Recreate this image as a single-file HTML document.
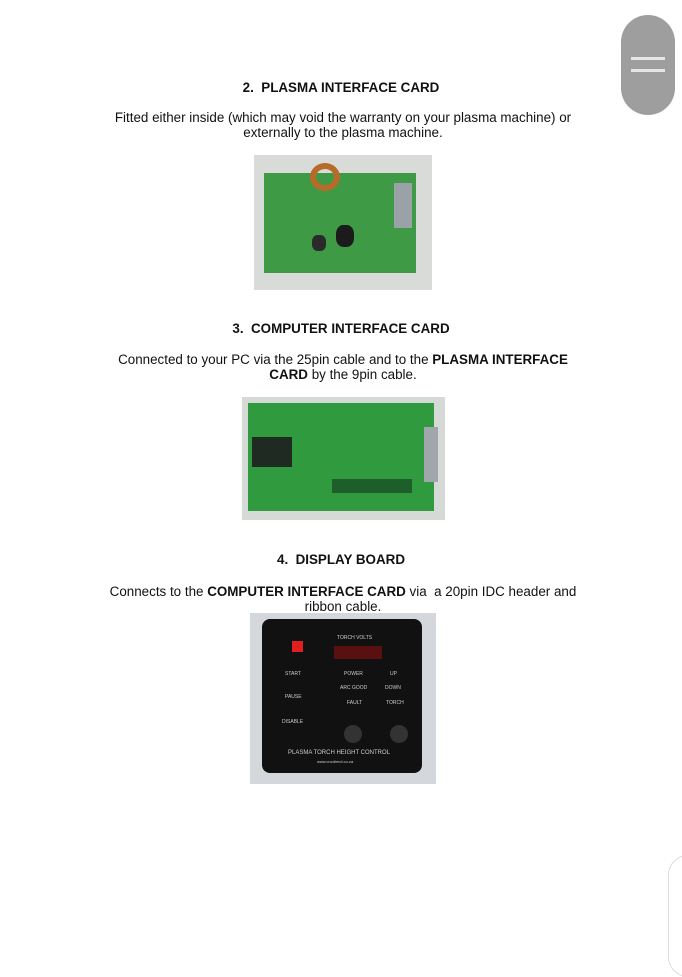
<!DOCTYPE html>
<html><head><style>
body{margin:0;width:682px;height:923px;background:#fff;position:relative;overflow:hidden;font-family:"Liberation Sans",sans-serif;color:#111}
.t{position:absolute;left:0;width:682px;text-align:center;font-size:13.4px;line-height:15px}
.h{font-weight:bold}
.a{position:absolute}
</style></head><body>
<div class="t h" style="top:80px">2.&nbsp; PLASMA INTERFACE CARD</div>
<div class="t" style="top:110px;left:2px">Fitted either inside (which may void the warranty on your plasma machine) or<br>externally to the plasma machine.</div>
<div class="a" style="left:254px;top:155px;width:178px;height:135px;background:#d9dbd8">
 <div class="a" style="left:10px;top:18px;width:152px;height:100px;background:#3f9a45"></div>
 <div class="a" style="left:56px;top:8px;width:30px;height:28px;border-radius:50%;border:6px solid #b86a2a;box-sizing:border-box"></div>
 <div class="a" style="left:140px;top:28px;width:18px;height:45px;background:#9aa2a8"></div>
 <div class="a" style="left:82px;top:70px;width:18px;height:22px;border-radius:40%;background:#1b1b1b"></div>
 <div class="a" style="left:58px;top:80px;width:14px;height:16px;border-radius:40%;background:#2a2a2a"></div>
</div>
<div class="t h" style="top:321px">3.&nbsp; COMPUTER INTERFACE CARD</div>
<div class="t" style="top:352px;left:2px">Connected to your PC via the 25pin cable and to the <b>PLASMA INTERFACE<br>CARD</b> by the 9pin cable.</div>
<div class="a" style="left:242px;top:397px;width:203px;height:123px;background:#d6dad6">
 <div class="a" style="left:6px;top:6px;width:186px;height:108px;background:#2f9a3e"></div>
 <div class="a" style="left:182px;top:30px;width:14px;height:55px;background:#a0a6aa"></div>
 <div class="a" style="left:10px;top:40px;width:40px;height:30px;background:#1f2a22"></div>
 <div class="a" style="left:90px;top:82px;width:80px;height:14px;background:#1d5e2b"></div>
</div>
<div class="t h" style="top:552px">4.&nbsp; DISPLAY BOARD</div>
<div class="t" style="top:584px;left:2px">Connects to the <b>COMPUTER INTERFACE CARD</b> via&nbsp; a 20pin IDC header and<br>ribbon cable.</div>
<div class="a" style="left:250px;top:613px;width:186px;height:171px;background:#d4d8dc">
 <div class="a" style="left:12px;top:6px;width:160px;height:154px;background:#111;border-radius:8px;color:#ccc;font-size:5px">
  <div class="a" style="left:30px;top:22px;width:11px;height:11px;background:#e02020"></div>
  <div class="a" style="left:72px;top:27px;width:48px;height:13px;background:#5a1010"></div>
  <div class="a" style="left:75px;top:16px">TORCH VOLTS</div>
  <div class="a" style="left:23px;top:52px">START</div>
  <div class="a" style="left:23px;top:75px">PAUSE</div>
  <div class="a" style="left:20px;top:100px">DISABLE</div>
  <div class="a" style="left:82px;top:52px">POWER</div>
  <div class="a" style="left:78px;top:66px">ARC GOOD</div>
  <div class="a" style="left:85px;top:81px">FAULT</div>
  <div class="a" style="left:128px;top:52px">UP</div>
  <div class="a" style="left:123px;top:66px">DOWN</div>
  <div class="a" style="left:124px;top:81px">TORCH</div>
  <div class="a" style="left:82px;top:106px;width:18px;height:18px;border-radius:50%;background:#333"></div>
  <div class="a" style="left:128px;top:106px;width:18px;height:18px;border-radius:50%;background:#333"></div>
  <div class="a" style="left:26px;top:131px;font-size:6px">PLASMA TORCH HEIGHT CONTROL</div>
  <div class="a" style="left:55px;top:140px;font-size:4px">www.cncdirect.co.za</div>
 </div>
</div>
<div class="a" style="left:621px;top:15px;width:54px;height:100px;border-radius:27px;background:#9e9e9e">
 <div class="a" style="left:10px;top:42px;width:34px;height:3px;background:#e6e6e6"></div>
 <div class="a" style="left:10px;top:54px;width:34px;height:3px;background:#e6e6e6"></div>
</div>
<div class="a" style="left:668px;top:855px;width:40px;height:120px;border-radius:20px;border:1px solid #ddd"></div>
</body></html>
